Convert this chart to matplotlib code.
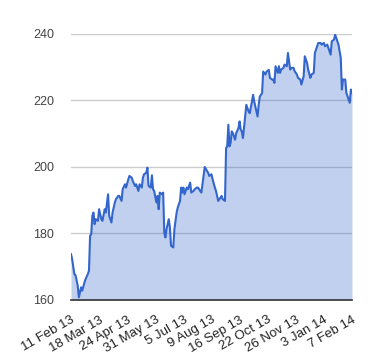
import matplotlib
matplotlib.use('Agg')
import matplotlib.pyplot as plt

# trading-day index (0 = 11 Feb 13, 250 = 7 Feb 14) and closing price
day_idx = [
    0, 1, 3, 4, 6, 7, 9, 10, 12, 13, 15, 16, 17, 18, 19, 20, 21, 22, 24, 25,
    27, 28, 30, 31, 33, 34, 36, 37, 39, 40, 42, 43, 45, 46, 48, 49, 51, 52, 54, 55,
    57, 58, 60, 61, 63, 64, 65, 67, 68, 69, 71, 72, 73, 74, 76, 77, 78, 79, 81, 82,
    83, 84, 85, 87, 88, 89, 91, 92, 94, 95, 97, 98, 99, 100, 101, 103, 104, 106, 107, 109,
    110, 112, 113, 115, 116, 118, 119, 121, 122, 123, 125, 126, 128, 129, 131, 132, 134, 135, 137, 138,
    139, 140, 141, 142, 143, 144, 146, 147, 149, 150, 151, 152, 153, 155, 156, 158, 159, 161, 162, 163,
    164, 166, 167, 168, 170, 171, 173, 174, 176, 177, 179, 180, 181, 182, 184, 185, 186, 187, 189, 190,
    192, 193, 195, 196, 198, 199, 201, 202, 204, 205, 207, 208, 210, 211, 213, 214, 216, 217, 219, 220,
    222, 223, 225, 226, 228, 229, 231, 232, 234, 235, 237, 238, 240, 241, 242, 244, 245, 247, 248, 249,
    250,
]
price = [
    173.8, 172.3, 167.8, 167.5, 164.3, 160.8, 163.8, 162.8, 165.3, 166.3,
    167.8, 168.8, 179.3, 179.8, 185.3, 186.3, 182.8, 184.3, 183.8, 187.3,
    184.3, 183.8, 187.3, 186.3, 191.8, 185.3, 183.3, 186.3, 189.3, 190.3,
    191.3, 191.3, 189.8, 193.3, 194.8, 193.8, 196.3, 197.3, 196.8, 195.8,
    194.3, 194.8, 192.8, 194.8, 193.8, 196.8, 197.8, 198.3, 199.8, 194.3,
    193.8, 197.5, 193.3, 192.8, 189.3, 191.3, 187.3, 192.3, 191.8, 192.3,
    180.3, 178.8, 181.3, 184.3, 181.8, 176.3, 175.8, 181.3, 186.3, 187.8,
    189.8, 193.8, 192.3, 193.8, 191.8, 193.8, 193.3, 195.3, 192.3, 192.8,
    193.3, 193.8, 193.8, 192.8, 192.3, 197.3, 200.0, 198.8, 198.3, 197.3,
    197.8, 196.3, 193.8, 192.8, 189.8, 190.3, 191.3, 190.3, 189.8, 205.7,
    206.2, 212.7, 206.2, 207.2, 210.7, 210.2, 208.2, 210.2, 211.7, 213.7,
    211.2, 210.7, 208.7, 215.2, 218.7, 216.7, 216.2, 219.7, 221.7, 219.7,
    218.2, 215.2, 218.7, 221.2, 222.2, 228.7, 227.8, 228.7, 229.2, 226.8,
    226.3, 226.3, 225.3, 230.3, 228.3, 230.3, 228.3, 229.3, 229.8, 230.8,
    230.3, 234.3, 229.3, 229.8, 229.8, 228.8, 227.8, 226.8, 226.3, 224.8,
    227.3, 233.3, 231.3, 229.3, 226.8, 227.8, 228.3, 234.3, 236.3, 237.3,
    237.3, 236.8, 237.3, 236.3, 236.8, 235.8, 233.8, 237.8, 238.3, 239.8,
    237.8, 236.8, 232.8, 223.3, 226.3, 226.3, 222.3, 220.3, 219.3, 223.3,
    222.3,
]

tick_idx = [0, 25, 50, 75, 100, 125, 150, 175, 200, 225, 250]
tick_labels = ['11 Feb 13', '18 Mar 13', '24 Apr 13', '31 May 13', '5 Jul 13',
               '9 Aug 13', '16 Sep 13', '22 Oct 13', '26 Nov 13', '3 Jan 14', '7 Feb 14']
y_ticks = [160, 180, 200, 220, 240]

plt.rcParams['font.family'] = ['Liberation Sans', 'DejaVu Sans']

fig = plt.figure(figsize=(3.8, 3.6), dpi=100)
ax = fig.add_axes([0.1868, 0.1667, 0.7395, 0.7389])

line_color = '#3366cc'
ax.fill_between(day_idx, price, 160, color=line_color, alpha=0.3, linewidth=0, zorder=2)
ax.plot(day_idx, price, color=line_color, linewidth=1.5, zorder=3)

ax.set_xlim(0, 250)
ax.set_ylim(160, 240)

ax.set_yticks(y_ticks)
ax.set_yticklabels([str(v) for v in y_ticks], fontsize=9, color='#444444')
ax.yaxis.grid(True, color='#cccccc', linewidth=1, zorder=1)
ax.set_axisbelow(True)
ax.tick_params(axis='y', length=0, pad=12)

ax.set_xticks(tick_idx)
ax.set_xticklabels(tick_labels, fontsize=9.5, color='#222222', rotation=30,
                   ha='right', va='top', rotation_mode='anchor')
ax.tick_params(axis='x', length=0, pad=10)

for side in ['top', 'right', 'left']:
    ax.spines[side].set_visible(False)
ax.spines['bottom'].set_color('#333333')
ax.spines['bottom'].set_linewidth(1.2)
ax.spines['bottom'].set_zorder(4)

fig.savefig('out.png', dpi=100)
